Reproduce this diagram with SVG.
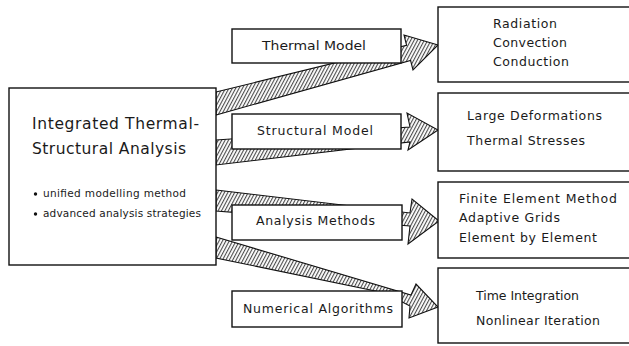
<svg xmlns="http://www.w3.org/2000/svg" width="629" height="346" viewBox="0 0 629 346">
<defs>
<pattern id="hatch" patternUnits="userSpaceOnUse" width="3" height="10" patternTransform="rotate(28)">
<rect width="3" height="10" fill="#fff"/>
<line x1="0.6" y1="0" x2="0.6" y2="10" stroke="#222" stroke-width="0.9"/>
</pattern>
</defs>
<style>
.box{fill:#fff;stroke:#111;stroke-width:1.4}
.arrow{fill:url(#hatch);stroke:#111;stroke-width:1.1;stroke-linejoin:miter}
text{font-family:"DejaVu Sans","Liberation Sans",sans-serif;fill:#1a1a1a}
.lbl{font-size:12.5px}
.item{font-size:12.5px}
.title{font-size:15.5px}
.bul{font-size:10.5px}
</style>
<rect width="629" height="346" fill="#fff"/>
<g id="connectors">
<polygon class="arrow" points="216,92 406.6,45.3 404,35 438,45 413,70 410.6,60.5 216,115"/>
<polygon class="arrow" points="216,140 410,127 407,113 438,130 408,150 410,142 216,165"/>
<polygon class="arrow" points="216,190 410,213 412,199 439,221 408,244 410,226 216,211"/>
<polygon class="arrow" points="216,237 411,295 416,284 438,307 409,318 410,306 385,293 216,258"/>
</g>
<g id="main">
<rect class="box" x="9" y="88" width="207" height="177"/>
<text class="title" x="32" y="129" textLength="167" lengthAdjust="spacing">Integrated Thermal-</text>
<text class="title" x="32" y="154" textLength="154" lengthAdjust="spacing">Structural Analysis</text>
<circle cx="35.5" cy="194" r="1.7" fill="#111"/>
<text class="bul" x="43" y="197" textLength="143" lengthAdjust="spacing">unified modelling method</text>
<circle cx="35.5" cy="214" r="1.7" fill="#111"/>
<text class="bul" x="43" y="217" textLength="158" lengthAdjust="spacing">advanced analysis strategies</text>
</g>
<g id="thermal-model">
<rect class="box" x="232" y="29" width="169" height="34"/>
<text class="lbl" x="262" y="50" textLength="104" lengthAdjust="spacingAndGlyphs">Thermal Model</text>
</g>
<g id="structural-model">
<rect class="box" x="232" y="114" width="169" height="35"/>
<text class="lbl" x="257" y="135" textLength="116" lengthAdjust="spacing">Structural Model</text>
</g>
<g id="analysis-methods">
<rect class="box" x="232" y="205" width="170" height="35"/>
<text class="lbl" x="256" y="225" textLength="119" lengthAdjust="spacing">Analysis Methods</text>
</g>
<g id="numerical-algorithms">
<rect class="box" x="232" y="291" width="170" height="36"/>
<text class="lbl" x="243" y="313" textLength="150" lengthAdjust="spacing">Numerical Algorithms</text>
</g>
<g id="thermal-effects">
<rect class="box" x="438" y="7" width="210" height="75"/>
<text class="item" x="493" y="28" textLength="64" lengthAdjust="spacing">Radiation</text>
<text class="item" x="493" y="47" textLength="74" lengthAdjust="spacing">Convection</text>
<text class="item" x="493" y="66" textLength="76" lengthAdjust="spacing">Conduction</text>
</g>
<g id="structural-effects">
<rect class="box" x="438" y="93" width="210" height="78"/>
<text class="item" x="467" y="120" textLength="135" lengthAdjust="spacing">Large Deformations</text>
<text class="item" x="467" y="145" textLength="118" lengthAdjust="spacing">Thermal Stresses</text>
</g>
<g id="methods">
<rect class="box" x="438" y="182" width="210" height="76"/>
<text class="item" x="459" y="203" textLength="158" lengthAdjust="spacing">Finite Element Method</text>
<text class="item" x="459" y="222" textLength="101" lengthAdjust="spacing">Adaptive Grids</text>
<text class="item" x="459" y="242" textLength="138" lengthAdjust="spacing">Element by Element</text>
</g>
<g id="algorithms">
<rect class="box" x="438" y="268" width="210" height="75"/>
<text class="item" x="476" y="300" textLength="103" lengthAdjust="spacing">Time Integration</text>
<text class="item" x="476" y="325" textLength="124" lengthAdjust="spacing">Nonlinear Iteration</text>
</g>
</svg>
